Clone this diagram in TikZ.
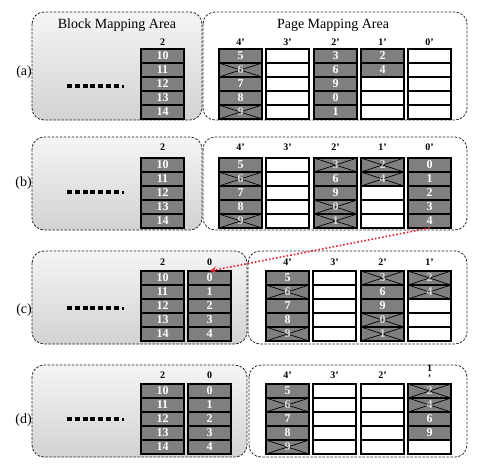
\documentclass[tikz,border=0pt]{standalone}
\usepackage{fontspec}
\setmainfont{Liberation Serif}
\usetikzlibrary{arrows.meta}
\definecolor{cellgray}{HTML}{7F7F7F}
\definecolor{arrowred}{HTML}{E0202A}
\tikzset{
 cellbase/.style={draw=black, line width=1.5pt, minimum width=43pt, minimum height=14pt, inner sep=0pt, outer sep=0pt, anchor=north west, font=\bfseries\fontsize{12}{12}\selectfont},
 cellg/.style={cellbase, fill=cellgray, text=white},
 cellw/.style={cellbase, fill=white},
 cellx/.style={cellbase, fill=cellgray, text=white!70!cellgray,
   path picture={\draw[line width=0.7pt,black] (path picture bounding box.north west) -- (path picture bounding box.south east) (path picture bounding box.south west) -- (path picture bounding box.north east);}},
 leftarea/.style={draw=black!85, dash pattern=on 2.5pt off 1.5pt, line width=0.8pt, rounded corners=12pt, top color=gray!8, bottom color=gray!35},
 rightarea/.style={draw=black!85, dash pattern=on 2.5pt off 1.5pt, line width=0.8pt, rounded corners=12pt, fill=white},
 collab/.style={font=\bfseries\fontsize{10}{11}\selectfont, inner sep=0pt},
 rowlab/.style={font=\fontsize{14}{14}\selectfont, anchor=east, inner sep=0pt},
 areatitle/.style={font=\fontsize{14}{14}\selectfont, inner sep=0pt},
 moveline/.style={draw=arrowred, dotted, line width=1.6pt, -{Stealth[length=7pt,width=6pt]}},
}
\newcommand\cellcol[4]{\foreach \kind/\txt [count=\i from 0] in {#4} {\node[cell\kind] (#1-\i) at (#2,{#3+\i*14}) {\txt};}}
\newcommand\dotrow[1]{\foreach \k in {0,...,6} {\fill[black] ({67+7.8*\k},{#1-2}) rectangle ++(5,4);}\fill[black] (122,{#1-1.5}) rectangle ++(1.5,3.5);}
\begin{document}
\begin{tikzpicture}[x=1pt,y=-1pt]
\useasboundingbox (0,0) rectangle (484,469);
% ---------- (a)
\path[leftarea] (32,12) rectangle (202,120);
\path[rightarea] (203,12) rectangle (467,120);
\node[areatitle] (titleL) at (117,25) {Block Mapping Area};
\node[areatitle] (titleR) at (333,25) {Page Mapping Area};
\node[rowlab] (la) at (32,72) {(a)};
\dotrow{86}
\node[collab] (a2l) at (162.5,42) {2};
\node[collab] (a4l) at (240.5,42) {4’};
\node[collab] (a3l) at (287.5,42) {3’};
\node[collab] (a2pl) at (335.5,42) {2’};
\node[collab] (a1l) at (382.5,42) {1’};
\node[collab] (a0l) at (429.5,42) {0’};
\cellcol{a2}{141}{49}{g/10,g/11,g/12,g/13,g/14}
\cellcol{a4p}{219}{49}{g/5,x/6,g/7,g/8,x/9}
\cellcol{a3p}{266}{49}{w/{},w/{},w/{},w/{},w/{}}
\cellcol{a2p}{314}{49}{g/3,g/6,g/9,g/0,g/1}
\cellcol{a1p}{361}{49}{g/2,g/4,w/{},w/{},w/{}}
\cellcol{a0p}{408}{49}{w/{},w/{},w/{},w/{},w/{}}
% ---------- (b)
\path[leftarea] (32,137) rectangle (202,230);
\path[rightarea] (203,137) rectangle (467,230);
\node[rowlab] (lb) at (32,183) {(b)};
\dotrow{192}
\node[collab] (b2l) at (162.5,147) {2};
\node[collab] (b4l) at (240.5,147) {4’};
\node[collab] (b3l) at (287.5,147) {3’};
\node[collab] (b2pl) at (335.5,147) {2’};
\node[collab] (b1l) at (382.5,147) {1’};
\node[collab] (b0l) at (429.5,147) {0’};
\cellcol{b2}{141}{158}{g/10,g/11,g/12,g/13,g/14}
\cellcol{b4p}{219}{158}{g/5,x/6,g/7,g/8,x/9}
\cellcol{b3p}{266}{158}{w/{},w/{},w/{},w/{},w/{}}
\cellcol{b2p}{314}{158}{x/3,g/6,g/9,x/0,x/1}
\cellcol{b1p}{361}{158}{x/2,x/4,w/{},w/{},w/{}}
\cellcol{b0p}{408}{158}{g/0,g/1,g/2,g/3,g/4}
% ---------- (c)
\path[leftarea] (32,251) rectangle (247,344);
\path[rightarea] (248,251) rectangle (467,344);
\node[rowlab] (lc) at (32,310) {(c)};
\dotrow{308}
\node[collab] (c2l) at (162.5,262) {2};
\node[collab] (c0l) at (209.5,262) {0};
\node[collab] (c4l) at (287.5,262) {4’};
\node[collab] (c3l) at (334.5,262) {3’};
\node[collab] (c2pl) at (382.5,262) {2’};
\node[collab] (c1l) at (429.5,262) {1’};
\cellcol{c2}{141}{271}{g/10,g/11,g/12,g/13,g/14}
\cellcol{c0}{188}{271}{g/0,g/1,g/2,g/3,g/4}
\cellcol{c4p}{266}{271}{g/5,x/6,g/7,g/8,x/9}
\cellcol{c3p}{313}{271}{w/{},w/{},w/{},w/{},w/{}}
\cellcol{c2p}{361}{271}{x/3,g/6,g/9,x/0,x/1}
\cellcol{c1p}{408}{271}{x/2,x/4,w/{},w/{},w/{}}
% ---------- (d)
\path[leftarea] (32,365) rectangle (247,457);
\path[rightarea] (249,365) rectangle (467,457);
\node[rowlab] (ld) at (32,420) {(d)};
\dotrow{419}
\node[collab] (d2l) at (162.5,375) {2};
\node[collab] (d0l) at (209.5,375) {0};
\node[collab] (d4l) at (287.5,375) {4’};
\node[collab] (d3l) at (334.5,375) {3’};
\node[collab] (d2pl) at (382.5,375) {2’};
\node[collab, align=center, font=\bfseries\fontsize{10}{10}\selectfont] (d1l) at (429.5,373) {1\\’};
\cellcol{d2}{141}{384}{g/10,g/11,g/12,g/13,g/14}
\cellcol{d0}{188}{384}{g/0,g/1,g/2,g/3,g/4}
\cellcol{d4p}{266}{384}{g/5,x/6,g/7,g/8,x/9}
\cellcol{d3p}{313}{384}{w/{},w/{},w/{},w/{},w/{}}
\cellcol{d2p}{361}{384}{w/{},w/{},w/{},w/{},w/{}}
\cellcol{d1p}{408}{384}{x/2,x/4,g/6,g/9,w/{}}
% ---------- move arrow
\draw[moveline] (b0p-4.south) -- (c0-0.north);
\end{tikzpicture}
\end{document}
